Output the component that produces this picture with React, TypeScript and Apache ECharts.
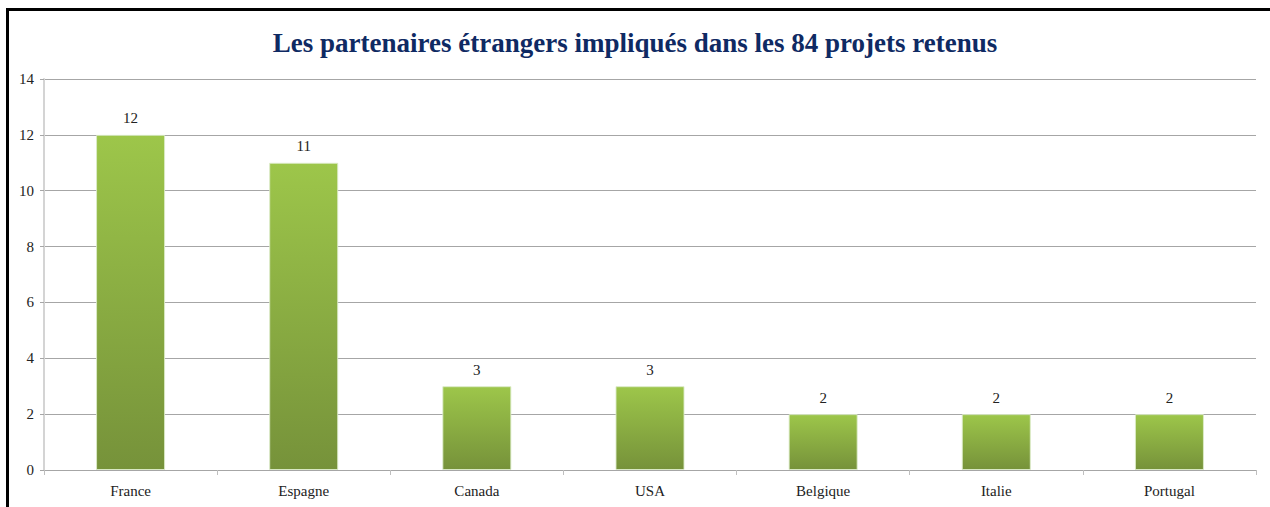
import React, { useEffect, useRef } from "react";
import * as echarts from "echarts";

const title = "Les partenaires étrangers impliqués dans les 84 projets retenus";
const categories = ["France", "Espagne", "Canada", "USA", "Belgique", "Italie", "Portugal"];
const values = [12, 11, 3, 3, 2, 2, 2];
const yMin = 0;
const yMax = 14;
const yStep = 2;

const serif = "'Liberation Serif', 'DejaVu Serif', serif";

export default function App() {
  const ref = useRef<HTMLDivElement>(null);
  useEffect(() => {
    document.body.style.margin = "0";
    const chart = echarts.init(ref.current!, null, { renderer: "svg" });
    chart.setOption({
      animation: false,
      backgroundColor: "#ffffff",
      title: {
        text: title,
        left: "center",
        top: 24,
        textStyle: {
          fontFamily: serif,
          fontWeight: "bold",
          fontSize: 27,
          color: "#0f2a63",
        },
      },
      graphic: [
        { type: "rect", shape: { x: 6, y: 8, width: 3, height: 499 }, style: { fill: "#000" } },
        { type: "rect", shape: { x: 6, y: 8, width: 1264, height: 3 }, style: { fill: "#000" } },
      ],
      grid: { left: 44, right: 14, top: 79, bottom: 37, containLabel: false },
      xAxis: {
        type: "category",
        data: categories,
        axisLine: { lineStyle: { color: "#a6a6a6", width: 1 } },
        axisTick: { show: true, length: 5, interval: 0, lineStyle: { color: "#bfbfbf" } },
        axisLabel: { fontFamily: serif, fontSize: 15, color: "#222", margin: 13, interval: 0 },
      },
      yAxis: {
        type: "value",
        min: yMin,
        max: yMax,
        interval: yStep,
        axisLine: { show: true, lineStyle: { color: "#d4d4d4", width: 2 } },
        axisTick: { show: true, length: 4, lineStyle: { color: "#a6a6a6" } },
        axisLabel: { fontFamily: serif, fontSize: 15, color: "#222", margin: 10 },
        splitLine: { lineStyle: { color: "#a6a6a6", width: 1 } },
      },
      series: [
        {
          type: "bar",
          data: values,
          barWidth: 69,
          itemStyle: {
            color: new echarts.graphic.LinearGradient(0, 0, 0, 1, [
              { offset: 0, color: "#9dc64a" },
              { offset: 1, color: "#76923a" },
            ]),
            borderColor: "rgba(220,235,200,0.9)",
            borderWidth: 1,
          },
          label: {
            show: true,
            position: "top",
            distance: 9,
            fontFamily: serif,
            fontSize: 15,
            color: "#222",
          },
        },
      ],
    });
    return () => chart.dispose();
  }, []);
  return (
    <div
      ref={ref}
      style={{ position: "absolute", left: 0, top: 0, width: 1270, height: 507 }}
    />
  );
}
